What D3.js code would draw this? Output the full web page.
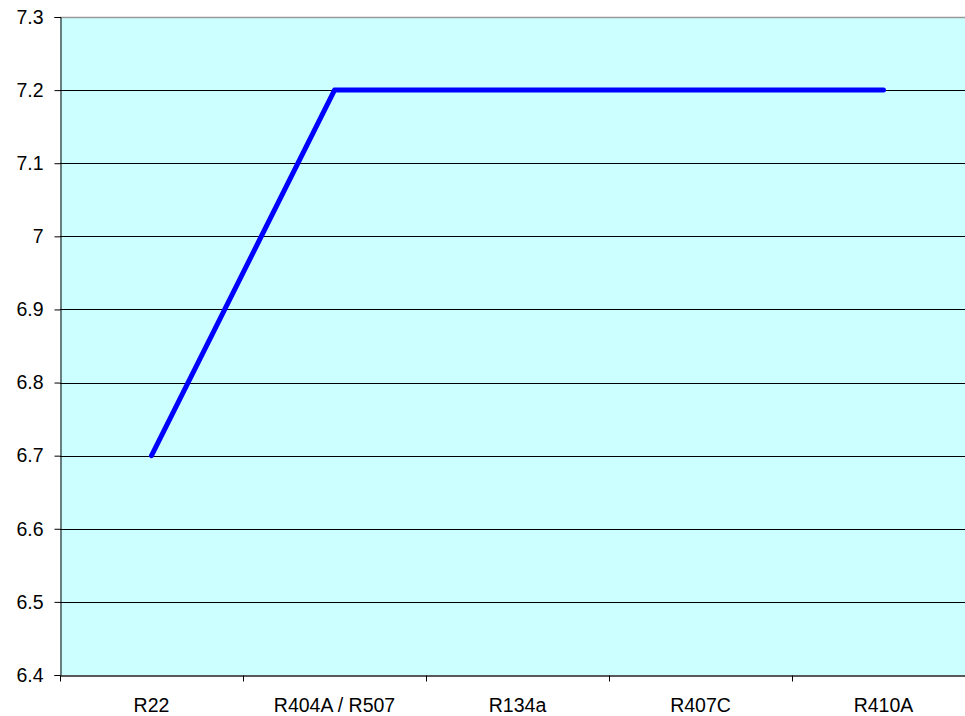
<!DOCTYPE html>
<html>
<head>
<meta charset="utf-8">
<script src="https://cdn.jsdelivr.net/npm/d3@7"></script>
<style>
  body { margin: 0; background: #fff; }
  svg { display: block; font-family: "Liberation Sans", Arial, sans-serif; }
</style>
</head>
<body>
<svg id="chart" width="965" height="716"></svg>
<script>
let categories = ["R22", "R404A / R507", "R134a", "R407C", "R410A"]
let values = [6.7, 7.2, 7.2, 7.2, 7.2]
let y_ticks = [6.4, 6.5, 6.6, 6.7, 6.8, 6.9, 7, 7.1, 7.2, 7.3]

let margin = {top: 17, left: 60, bottom: 675, right: 975}
let font_size = 19.5
let svg = d3.select("#chart")

let x = d3.scaleBand()
  .domain(categories)
  .range([margin.left, margin.right])

let y = d3.scaleLinear()
  .domain([6.4, 7.3])
  .range([margin.bottom, margin.top])

// plot background
svg.append("rect")
  .attr("x", margin.left)
  .attr("y", margin.top)
  .attr("width", margin.right - margin.left)
  .attr("height", margin.bottom - margin.top)
  .attr("fill", "#ccffff")

// gridlines
svg.append("g")
  .selectAll("line")
  .data(y_ticks.slice(1, -1)).enter()
  .append("line")
  .attr("x1", margin.left)
  .attr("x2", margin.right)
  .attr("y1", d => Math.round(y(d)) + 0.5)
  .attr("y2", d => Math.round(y(d)) + 0.5)
  .attr("stroke", "#000")
  .attr("stroke-width", 1)

// top border
svg.append("line")
  .attr("x1", margin.left).attr("x2", margin.right)
  .attr("y1", margin.top + 0.5).attr("y2", margin.top + 0.5)
  .attr("stroke", "#999").attr("stroke-width", 1.5)

// y axis
let y_axis = d3.axisLeft(y)
  .tickValues(y_ticks)
  .tickFormat(d => d3.format("")(Math.round(d * 10) / 10))
  .tickSize(6)
  .tickPadding(11)
svg.append("g")
  .attr("transform", `translate(${margin.left + 0.5}, 0)`)
  .call(y_axis)
  .call(g => g.select(".domain").attr("stroke", "#000"))
  .call(g => g.selectAll("text").attr("font-size", font_size).attr("fill", "#000").attr("font-family", "Liberation Sans, Arial, sans-serif"))

// x axis
let x_axis = d3.axisBottom(x).tickSize(0).tickPadding(23)
let xg = svg.append("g")
  .attr("transform", `translate(0, ${margin.bottom + 0.5})`)
  .call(x_axis)
xg.select(".domain").attr("stroke", "#222").attr("stroke-width", 1.5)
xg.selectAll("text").attr("font-size", font_size).attr("fill", "#000").attr("font-family", "Liberation Sans, Arial, sans-serif")

// category separator ticks
xg.append("g")
  .selectAll("line")
  .data(categories).enter()
  .append("line")
  .attr("x1", d => Math.round(x(d)) + 0.5)
  .attr("x2", d => Math.round(x(d)) + 0.5)
  .attr("y1", 0)
  .attr("y2", 6)
  .attr("stroke", "#000")

// series line
let line = d3.line()
  .x((d, i) => x(categories[i]) + x.bandwidth() / 2)
  .y(d => y(d))

svg.append("path")
  .datum(values)
  .attr("d", line)
  .attr("fill", "none")
  .attr("stroke", "#0000ff")
  .attr("stroke-width", 5)
  .attr("stroke-linecap", "round")
  .attr("stroke-linejoin", "round")
</script>
</body>
</html>
